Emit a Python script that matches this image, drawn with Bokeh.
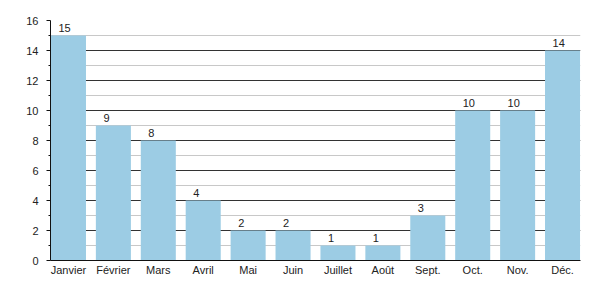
from bokeh.plotting import figure
from bokeh.models import Range1d, FixedTicker, ColumnDataSource
from bokeh.embed import file_html
from bokeh.resources import INLINE
from bokeh.core.properties import value

months = ["Janvier", "Février", "Mars", "Avril", "Mai", "Juin", "Juillet", "Août", "Sept.", "Oct.", "Nov.", "Déc."]
counts = [15, 9, 8, 4, 2, 2, 1, 1, 3, 10, 10, 14]
y_ticks = [0, 2, 4, 6, 8, 10, 12, 14, 16]
y_minor = [1, 3, 5, 7, 9, 11, 13, 15]

idx = list(range(len(months)))
src = ColumnDataSource(dict(x=idx, y=counts, label=[str(c) for c in counts]))

p = figure(width=600, height=300, output_backend="svg", toolbar_location=None,
           x_range=Range1d(-0.4, len(months) - 0.6), y_range=Range1d(0, 16),
           min_border_left=50, min_border_right=20, min_border_top=20, min_border_bottom=40)
p.outline_line_color = None
p.background_fill_color = "white"

font = "Liberation Sans"

# gridlines
p.ygrid.ticker = FixedTicker(ticks=y_ticks, minor_ticks=y_minor)
p.ygrid.grid_line_color = "#333333"
p.ygrid.grid_line_width = 1
p.ygrid.minor_grid_line_color = "#c8c8c8"
p.ygrid.minor_grid_line_width = 1
p.xgrid.grid_line_color = None

p.vbar(x="x", top="y", width=0.78, bottom=0, source=src, color="#9ccce4", line_color=None)
p.text(x="x", y="y", text="label", source=src, text_align="left", text_baseline="bottom",
       x_offset=-10, y_offset=-4, text_font=value(font), text_font_size="11px", text_color="#222222")

# axes
p.yaxis.ticker = FixedTicker(ticks=y_ticks, minor_ticks=y_minor)
p.yaxis.axis_line_color = "#111111"
p.yaxis.major_tick_line_color = "#111111"
p.yaxis.minor_tick_line_color = "#111111"
p.yaxis.major_tick_out = 4
p.yaxis.major_tick_in = 0
p.yaxis.minor_tick_out = 2
p.yaxis.minor_tick_in = 0
p.yaxis.major_label_text_font = font
p.yaxis.major_label_text_font_size = "11px"
p.yaxis.major_label_text_color = "#222222"
p.yaxis.major_label_standoff = 8

p.xaxis.ticker = FixedTicker(ticks=idx)
p.xaxis.major_label_overrides = {i: m for i, m in enumerate(months)}
p.xaxis.axis_line_color = "#111111"
p.xaxis.major_tick_line_color = None
p.xaxis.minor_tick_line_color = None
p.xaxis.major_tick_out = 0
p.xaxis.major_tick_in = 0
p.xaxis.major_label_text_font = font
p.xaxis.major_label_text_font_size = "11px"
p.xaxis.major_label_text_color = "#222222"
p.xaxis.major_label_standoff = 3

open("out.html", "w").write(file_html(p, INLINE))
